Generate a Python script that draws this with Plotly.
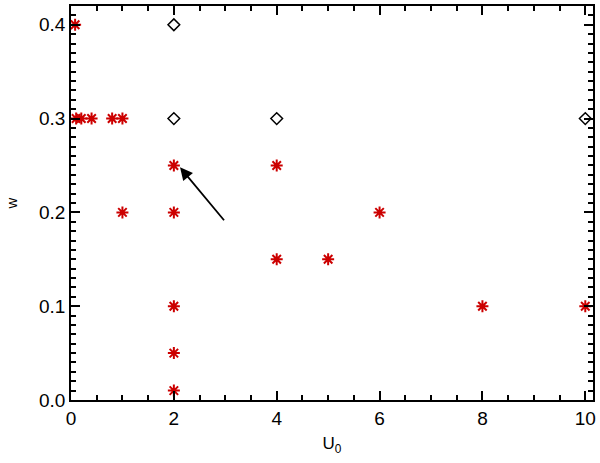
import plotly.graph_objects as go

# red asterisks
star_u0 = [0.08, 0.1, 0.2, 0.4, 0.8, 1.0, 1.0, 2, 2, 2, 2, 2, 4, 4, 5, 6, 8, 10]
star_w = [0.4, 0.3, 0.3, 0.3, 0.3, 0.3, 0.2, 0.25, 0.2, 0.1, 0.05, 0.01, 0.25, 0.15, 0.15, 0.2, 0.1, 0.1]

# black diamonds
dia_u0 = [2, 2, 4, 10]
dia_w = [0.4, 0.3, 0.3, 0.3]

# arrow (tail -> head)
arrow_tail = (3.0, 0.19)
arrow_head = (2.12, 0.248)

FONT = "Liberation Sans, Arial, sans-serif"

fig = go.Figure()
fig.add_trace(go.Scatter(
    x=star_u0, y=star_w, mode="markers", cliponaxis=False,
    marker=dict(symbol="asterisk-open", size=10, color="#cc0000",
                line=dict(color="#cc0000", width=2)),
))
fig.add_trace(go.Scatter(
    x=dia_u0, y=dia_w, mode="markers", cliponaxis=False,
    marker=dict(symbol="diamond-open", size=9, color="black",
                line=dict(color="black", width=1.5)),
))

fig.add_annotation(
    x=arrow_head[0], y=arrow_head[1], ax=arrow_tail[0], ay=arrow_tail[1],
    xref="x", yref="y", axref="x", ayref="y",
    showarrow=True, arrowhead=2, arrowsize=1.4, arrowwidth=1.8,
    arrowcolor="black", text="",
)

axis_common = dict(
    showline=True, linecolor="black", linewidth=1.5, mirror="allticks",
    ticks="inside", tickcolor="black", tickwidth=1.5,
    showgrid=False, zeroline=False,
    tickfont=dict(family=FONT, size=19, color="black"),
)

fig.update_xaxes(
    range=[0, 10.15], tickvals=[0, 2, 4, 6, 8, 10], ticklen=9,
    minor=dict(dtick=0.5, ticks="inside", ticklen=5, tickcolor="black", tickwidth=1.5),
    title=dict(text="U<sub>0</sub>", font=dict(family=FONT, size=17, color="black"), standoff=10),
    **axis_common,
)
fig.update_yaxes(
    range=[0, 0.42], tickvals=[0, 0.1, 0.2, 0.3, 0.4], tickformat=".1f", ticklen=9,
    minor=dict(dtick=0.01, ticks="inside", ticklen=5, tickcolor="black", tickwidth=1.5),
    title=dict(text="w", font=dict(family=FONT, size=15, color="black"), standoff=18),
    **axis_common,
)

fig.update_layout(
    width=600, height=463,
    margin=dict(l=71, r=5, t=4, b=63),
    paper_bgcolor="white", plot_bgcolor="white",
    showlegend=False,
)

fig.write_html("out.html", config={"displayModeBar": False},
               post_script="document.body.style.margin='0';")
